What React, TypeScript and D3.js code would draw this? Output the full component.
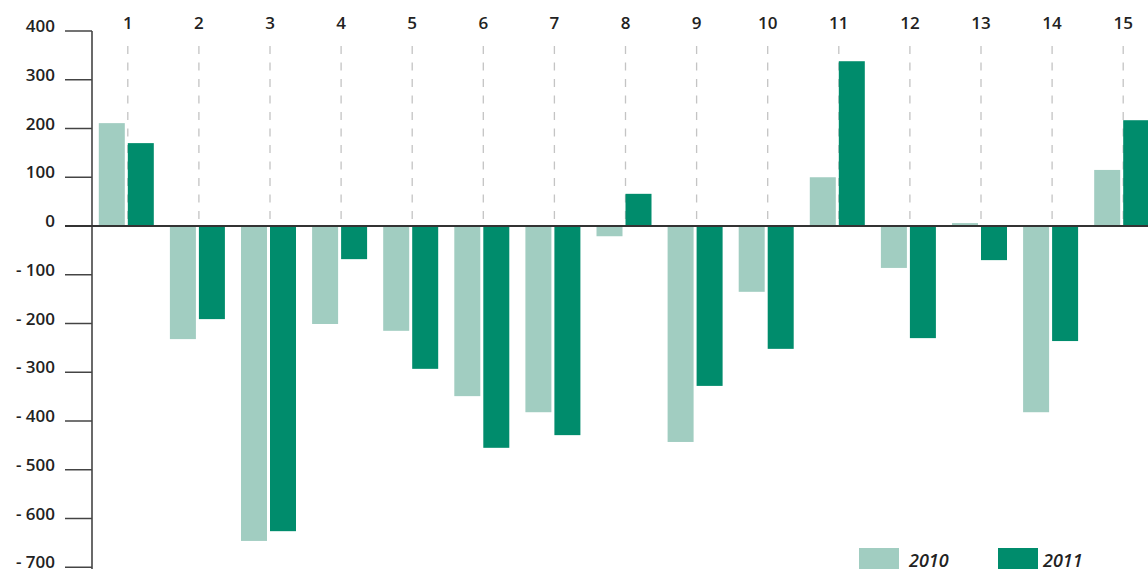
import React from "react";
import * as d3 from "d3";

const categories = ["1", "2", "3", "4", "5", "6", "7", "8", "9", "10", "11", "12", "13", "14", "15"];
const values2010 = [211, -232, -646, -201, -215, -349, -382, -21, -443, -135, 100, -86, 6, -382, 115];
const values2011 = [170, -191, -626, -68, -293, -455, -429, 66, -328, -252, 338, -230, -70, -236, 217];
const yTicks = [400, 300, 200, 100, 0, -100, -200, -300, -400, -500, -600, -700];
const seriesNames = ["2010", "2011"];

const W = 1148;
const H = 569;
const light = "#a1cdc1";
const dark = "#008c6c";
const font = "'Open Sans', 'DejaVu Sans', sans-serif";

export default function App() {
  const y = d3.scaleLinear().domain([400, -700]).range([31, 567.25]);
  const x = d3.scaleBand<string>().domain(categories).range([92.25, 1158.75]).padding(0);
  const step = x.bandwidth();
  const center = (c: string) => (x(c) as number) + step / 2;
  const y0 = y(0);

  const bar = (v: number, x0: number, fill: string, key: string) => (
    <rect
      key={key}
      x={x0}
      y={Math.min(y(v), y0)}
      width={26}
      height={Math.abs(y(v) - y0)}
      fill={fill}
    />
  );

  return (
    <svg
      width={W}
      height={H}
      style={{ position: "absolute", left: 0, top: 0, display: "block", background: "#fff" }}
      fontFamily={font}
    >
      {/* dashed guides */}
      {categories.map((c) => (
        <line
          key={"g" + c}
          x1={center(c)}
          x2={center(c)}
          y1={46}
          y2={y0}
          stroke="#c4c4c4"
          strokeWidth={1.3}
          strokeDasharray="8,8.5"
        />
      ))}

      {/* bars */}
      {categories.map((c, i) => bar(values2010[i], center(c) - 29, light, "a" + c))}
      {categories.map((c, i) => bar(values2011[i], center(c), dark, "b" + c))}

      {/* category labels */}
      {categories.map((c) => (
        <text key={"t" + c} x={center(c)} y={29} textAnchor="middle" fontSize={17} fontWeight={600} fill="#222">
          {c}
        </text>
      ))}

      {/* y axis */}
      <line x1={92} x2={92} y1={y(400)} y2={H} stroke="#444" strokeWidth={1.6} />
      {yTicks.map((t) => (
        <g key={"y" + t}>
          {t !== 0 && <line x1={65} x2={92} y1={y(t)} y2={y(t)} stroke="#444" strokeWidth={1.5} />}
          <text x={55} y={y(t) + 1} textAnchor="end" fontSize={17} fontWeight={600} fill="#222">
            {t < 0 ? "- " + Math.abs(t) : String(t)}
          </text>
        </g>
      ))}
      {/* zero line */}
      <line x1={65} x2={W} y1={y0} y2={y0} stroke="#333" strokeWidth={2} />

      {/* legend */}
      <rect x={859} y={548} width={40} height={22} fill={light} />
      <text x={909} y={567} fontSize={18} fontStyle="italic" fontWeight={600} fill="#222">
        {seriesNames[0]}
      </text>
      <rect x={998} y={548} width={40} height={22} fill={dark} />
      <text x={1043} y={567} fontSize={18} fontStyle="italic" fontWeight={600} fill="#222">
        {seriesNames[1]}
      </text>
    </svg>
  );
}
